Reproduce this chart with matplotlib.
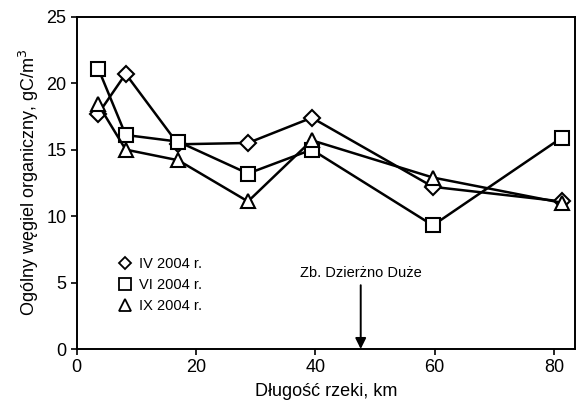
import matplotlib.pyplot as plt
from matplotlib.lines import Line2D

plt.rcParams['font.family'] = ['Liberation Sans', 'DejaVu Sans']

# river length, km
distance = [3.6, 8.2, 17.0, 28.7, 39.4, 59.7, 81.3]

toc_iv = [17.7, 20.7, 15.4, 15.5, 17.4, 12.2, 11.1]
toc_vi = [21.1, 16.1, 15.6, 13.2, 15.0, 9.3, 15.9]
toc_ix = [18.4, 15.0, 14.2, 11.1, 15.7, 12.9, 11.0]

labels = ["IV 2004 r.", "VI 2004 r.", "IX 2004 r."]
markers = ["D", "s", "^"]
marker_sizes = [8, 10, 10]

reservoir_km = 47.6
reservoir_name = "Zb. Dzierżno Duże"

fig = plt.figure(figsize=(5.86, 4.07), dpi=100)
ax = fig.add_axes([0.131, 0.1425, 0.85, 0.8165])

for series, m, ms in zip([toc_iv, toc_vi, toc_ix], markers, marker_sizes):
    ax.plot(distance, series, color="black", linewidth=1.8, marker=m,
            markersize=ms, markerfacecolor="white", markeredgecolor="black",
            markeredgewidth=1.5, zorder=3)

handles = [Line2D([], [], linestyle="none", marker=m, markersize=ms * 0.8,
                  markerfacecolor="white", markeredgecolor="black",
                  markeredgewidth=1.3)
           for m, ms in zip(markers, marker_sizes)]
ax.legend(handles, labels, loc="lower left", bbox_to_anchor=(0.07, 0.09),
          frameon=False, fontsize=10.5, handlelength=1.0, handletextpad=0.5,
          labelspacing=0.5, borderaxespad=0)

ax.annotate("", xy=(reservoir_km, 0), xytext=(reservoir_km, 4.8),
            arrowprops=dict(arrowstyle="-|>", color="black", lw=1.4,
                            mutation_scale=16, shrinkA=0, shrinkB=0))
ax.text(reservoir_km, 5.7, reservoir_name, ha="center", va="center", fontsize=10.5)

ax.set_xlim(0, 83.5)
ax.set_ylim(0, 25)
ax.set_xticks([0, 20, 40, 60, 80])
ax.set_yticks([0, 5, 10, 15, 20, 25])
ax.tick_params(labelsize=13, length=4, width=1.2, direction="out")
for s in ax.spines.values():
    s.set_linewidth(1.4)

ax.set_xlabel("Długość rzeki, km", fontsize=13, labelpad=5)
ax.set_ylabel("Ogólny węgiel organiczny, gC/m$^3$", fontsize=13, labelpad=4)

fig.savefig("out.png", dpi=100)
